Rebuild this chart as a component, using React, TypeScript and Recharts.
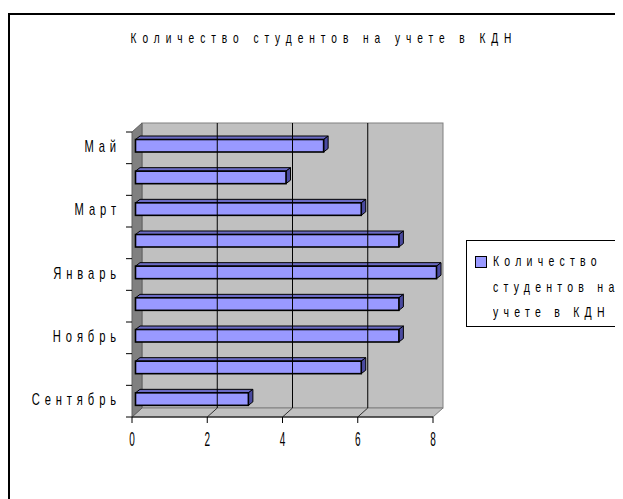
import React from 'react';
import { BarChart, Bar, XAxis, YAxis, ReferenceArea, ReferenceLine } from 'recharts';

const months = ['Сентябрь', 'Октябрь', 'Ноябрь', 'Декабрь', 'Январь', 'Февраль', 'Март', 'Апрель', 'Май'];
const students = [3, 6, 7, 7, 8, 7, 6, 4, 5];
const xTicks = [0, 2, 4, 6, 8];
const gridValues = [2, 4, 6];
const seriesName = 'Количество студентов на учете в КДН';
const legendLines = ['Количество', 'студентов на', 'учете в КДН'];

const data = months.map((m, i) => ({ month: m, value: students[i] }));

const FONT = "'Liberation Sans', Arial, sans-serif";
const NARROW = 0.7;
const DX = 10;
const DY = -9;
const Y_TICK_SIZE = 6;
const Y_TICK_MARGIN = 5;

const Walls = (p: any) => {
  const { x, y, width, height } = p;
  const b = y + height;
  return (
    <g>
      <rect x={x + DX} y={y + DY} width={width} height={height} fill="#c0c0c0" stroke="#808080" strokeWidth={1} />
      <polygon
        points={`${x},${b} ${x + width},${b} ${x + width + DX},${b + DY} ${x + DX},${b + DY}`}
        fill="#c0c0c0"
        stroke="#808080"
        strokeWidth={1}
      />
      <polygon
        points={`${x},${y} ${x + DX},${y + DY} ${x + DX},${b + DY} ${x},${b}`}
        fill="#808080"
        stroke="#606060"
        strokeWidth={1}
      />
    </g>
  );
};

const BackGridLine = (p: any) => {
  const { x1, y1, y2 } = p;
  const top = Math.min(y1, y2);
  const bottom = Math.max(y1, y2);
  return (
    <g>
      <line x1={x1 + DX} y1={top + DY} x2={x1 + DX} y2={bottom + DY} stroke="#000" strokeWidth={1} />
      <line x1={x1} y1={bottom} x2={x1 + DX} y2={bottom + DY} stroke="#303030" strokeWidth={1} />
    </g>
  );
};

const Bar3D = (p: any) => {
  const { x, y, width, height } = p;
  if (width == null || height == null) return null;
  const fx = x + 3.5;
  const fy = y - 2.5;
  const dx = 4.5;
  const dy = -3.5;
  return (
    <g>
      <polygon
        points={`${fx},${fy} ${fx + dx},${fy + dy} ${fx + width + dx},${fy + dy} ${fx + width},${fy}`}
        fill="#6b6bc4"
        stroke="#000"
        strokeWidth={1}
        strokeLinejoin="round"
      />
      <polygon
        points={`${fx + width},${fy} ${fx + width + dx},${fy + dy} ${fx + width + dx},${fy + dy + height} ${fx + width},${fy + height}`}
        fill="#4a4aa0"
        stroke="#000"
        strokeWidth={1}
        strokeLinejoin="round"
      />
      <rect x={fx} y={fy} width={width} height={height} fill="#9999ff" stroke="#000" strokeWidth={1.6} />
    </g>
  );
};

const YTick = (p: any) => {
  const { x, y, payload, index } = p;
  const half = payload && typeof payload.offset === 'number' && payload.offset > 0 ? payload.offset : 15.8;
  const axisX = x + Y_TICK_MARGIN + Y_TICK_SIZE;
  return (
    <g>
      <line x1={axisX - Y_TICK_SIZE} x2={axisX} y1={y - half} y2={y - half} stroke="#000" />
      {index === 0 && <line x1={axisX - Y_TICK_SIZE} x2={axisX} y1={y + half} y2={y + half} stroke="#000" />}
      {index % 2 === 0 && (
        <g transform={`translate(${x},${y - 1.5}) scale(${NARROW},1)`}>
          <text
            x={0}
            y={0}
            dy="0.35em"
            textAnchor="end"
            fill="#000"
            fontFamily={FONT}
            fontSize={16}
            style={{ letterSpacing: '7px' }}
          >
            {payload.value}
          </text>
        </g>
      )}
    </g>
  );
};

const XTick = (p: any) => {
  const { x, y, payload } = p;
  return (
    <g transform={`translate(${x},${y}) scale(0.5,1)`}>
      <text x={0} y={0} dy="0.8em" textAnchor="middle" fill="#000" fontFamily={FONT} fontSize={20}>
        {payload.value}
      </text>
    </g>
  );
};

export default function App() {
  return (
    <div style={{ position: 'relative', width: 615, height: 491, overflow: 'hidden', background: '#fff' }}>
      <div
        style={{
          position: 'absolute',
          left: 0,
          top: 5,
          width: 700,
          height: 600,
          border: '2px solid #000',
          boxSizing: 'border-box',
        }}
      />
      <BarChart
        width={615}
        height={491}
        layout="vertical"
        data={data}
        margin={{ top: 124, right: 190, bottom: 52, left: 14 }}
      >
        <ReferenceArea x1={0} x2={8} shape={<Walls />} ifOverflow="visible" />
        {gridValues.map((v) => (
          <ReferenceLine key={v} x={v} shape={(props: any) => <BackGridLine {...props} />} ifOverflow="visible" />
        ))}
        <XAxis
          type="number"
          domain={[0, 8]}
          ticks={xTicks}
          interval={0}
          axisLine={{ stroke: '#000', strokeWidth: 1 }}
          tickLine={{ stroke: '#000' }}
          tickSize={6}
          tickMargin={7}
          height={30}
          tick={<XTick />}
        />
        <YAxis
          type="category"
          dataKey="month"
          reversed
          interval={0}
          width={110}
          axisLine={false}
          tickLine={false}
          tickSize={Y_TICK_SIZE}
          tickMargin={Y_TICK_MARGIN}
          tick={<YTick />}
        />
        <Bar dataKey="value" name={seriesName} barSize={12.5} isAnimationActive={false} shape={<Bar3D />} />
      </BarChart>
      <div
        style={{
          position: 'absolute',
          left: 8,
          top: 22,
          width: 616,
          textAlign: 'center',
          fontFamily: FONT,
          fontSize: 14.5,
          lineHeight: '17px',
          letterSpacing: '8.5px',
          color: '#000',
          whiteSpace: 'pre',
          transform: `scaleX(${NARROW})`,
          transformOrigin: '50% 50%',
        }}
      >
        {seriesName}
      </div>
      <div
        style={{
          position: 'absolute',
          left: 458,
          top: 232,
          width: 200,
          height: 87,
          border: '1px solid #000',
          boxSizing: 'border-box',
          background: '#fff',
        }}
      >
        <div
          style={{
            position: 'absolute',
            left: 8,
            top: 15,
            width: 10,
            height: 10,
            background: '#9999ff',
            border: '1px solid #000',
          }}
        />
        <div
          style={{
            position: 'absolute',
            left: 26,
            top: 7,
            fontFamily: FONT,
            fontSize: 15,
            lineHeight: '25.5px',
            letterSpacing: '7.5px',
            color: '#000',
            whiteSpace: 'pre',
            transform: `scaleX(${NARROW})`,
            transformOrigin: '0 0',
          }}
        >
          {legendLines.map((l) => (
            <div key={l}>{l}</div>
          ))}
        </div>
      </div>
    </div>
  );
}
